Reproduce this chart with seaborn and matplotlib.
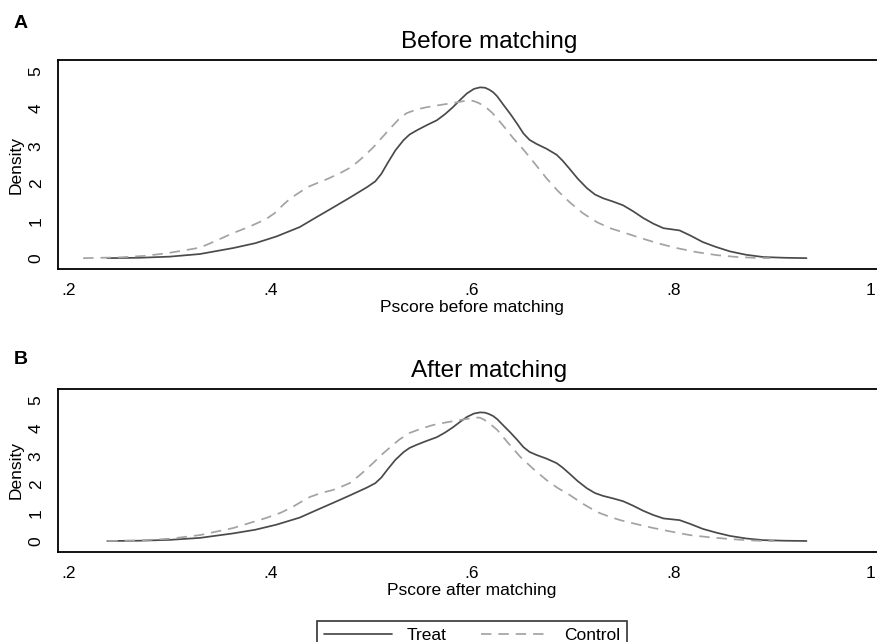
import pandas as pd
import matplotlib.pyplot as plt
import seaborn as sns
from matplotlib.lines import Line2D

sns.set_style("white")
plt.rcParams['font.family'] = ['Liberation Sans', 'DejaVu Sans']
plt.rcParams['text.color'] = 'black'
plt.rcParams['axes.labelcolor'] = 'black'

# ------------------------------------------------------------------
# Data
# ------------------------------------------------------------------
treat_x = [0.238, 0.27, 0.30, 0.33, 0.363, 0.385, 0.406, 0.429, 0.446, 0.462,
           0.479, 0.496, 0.504, 0.51, 0.516, 0.524, 0.532, 0.538, 0.545, 0.555,
           0.565, 0.573, 0.581, 0.588, 0.595, 0.602, 0.608, 0.613, 0.617, 0.621,
           0.625, 0.631, 0.638, 0.645, 0.651, 0.657, 0.664, 0.674, 0.684, 0.69,
           0.697, 0.705, 0.714, 0.722, 0.73, 0.74, 0.75, 0.76, 0.77, 0.78,
           0.79, 0.798, 0.806, 0.817, 0.829, 0.842, 0.856, 0.872, 0.889, 0.91,
           0.932]
treat_y = [0.0, 0.01, 0.04, 0.11, 0.27, 0.4, 0.58, 0.83, 1.1, 1.35,
           1.62, 1.9, 2.05, 2.25, 2.53, 2.88, 3.15, 3.3, 3.41, 3.55,
           3.68, 3.84, 4.03, 4.22, 4.4, 4.52, 4.56, 4.55, 4.5, 4.43,
           4.32, 4.1, 3.85, 3.58, 3.33, 3.16, 3.05, 2.92, 2.76, 2.6,
           2.38, 2.12, 1.87, 1.7, 1.6, 1.51, 1.41, 1.25, 1.07, 0.92,
           0.8, 0.77, 0.74, 0.6, 0.43, 0.3, 0.18, 0.09, 0.03, 0.01,
           0.0]

control_before_x = [0.214, 0.25, 0.275, 0.297, 0.317, 0.33, 0.343, 0.363, 0.38, 0.396,
                    0.404, 0.412, 0.42, 0.429, 0.437, 0.446, 0.457, 0.469, 0.478, 0.486,
                    0.494, 0.502, 0.51, 0.519, 0.527, 0.535, 0.545, 0.555, 0.566, 0.578,
                    0.587, 0.595, 0.601, 0.606, 0.611, 0.615, 0.62, 0.625, 0.633, 0.641,
                    0.65, 0.658, 0.666, 0.674, 0.685, 0.697, 0.71, 0.724, 0.737, 0.75,
                    0.767, 0.784, 0.803, 0.823, 0.843, 0.863, 0.88, 0.896]
control_before_y = [0.0, 0.02, 0.06, 0.13, 0.22, 0.28, 0.43, 0.67, 0.85, 1.05,
                    1.2, 1.41, 1.6, 1.76, 1.9, 2.0, 2.12, 2.27, 2.4, 2.56,
                    2.75, 2.96, 3.2, 3.47, 3.7, 3.87, 3.97, 4.03, 4.08, 4.13,
                    4.17, 4.21, 4.2, 4.15, 4.08, 4.0, 3.88, 3.73, 3.47, 3.2,
                    2.93, 2.67, 2.4, 2.13, 1.8, 1.49, 1.2, 0.96, 0.8, 0.69,
                    0.54, 0.4, 0.27, 0.16, 0.08, 0.03, 0.01, 0.0]

control_after_x = [0.238, 0.27, 0.30, 0.33, 0.363, 0.396, 0.41, 0.422, 0.431, 0.439,
                   0.45, 0.462, 0.47, 0.479, 0.49, 0.502, 0.51, 0.519, 0.528, 0.538,
                   0.55, 0.561, 0.575, 0.588, 0.597, 0.603, 0.608, 0.612, 0.618, 0.625,
                   0.636, 0.648, 0.661, 0.674, 0.685, 0.697, 0.71, 0.724, 0.735, 0.747,
                   0.763, 0.78, 0.798, 0.816, 0.836, 0.856, 0.872, 0.889, 0.9]
control_after_y = [0.0, 0.02, 0.08, 0.21, 0.46, 0.82, 1.0, 1.21, 1.4, 1.56,
                   1.7, 1.81, 1.92, 2.06, 2.38, 2.77, 3.05, 3.33, 3.6, 3.83,
                   3.99, 4.11, 4.21, 4.29, 4.34, 4.38, 4.37, 4.3, 4.15, 3.94,
                   3.47, 2.98, 2.55, 2.16, 1.88, 1.63, 1.32, 1.03, 0.88, 0.74,
                   0.6, 0.46, 0.33, 0.21, 0.13, 0.07, 0.03, 0.0, 0.0]

x_ticks = [0.2, 0.4, 0.6, 0.8, 1.0]
x_tick_labels = ['.2', '.4', '.6', '.8', '1']
y_ticks = [0, 1, 2, 3, 4, 5]

groups = ['Treat', 'Control']
palette = {'Treat': '#4a4a4a', 'Control': '#a3a3a3'}
dashes = {'Treat': '', 'Control': (6, 4)}


def make_frame(cx, cy):
    d1 = pd.DataFrame({'pscore': treat_x, 'density': treat_y, 'group': 'Treat'})
    d2 = pd.DataFrame({'pscore': cx, 'density': cy, 'group': 'Control'})
    return pd.concat([d1, d2], ignore_index=True)


def style_axis(ax, title, xlabel, ylim):
    ax.set_xlim(0.1891, 1.0447)
    ax.set_ylim(*ylim)
    ax.set_xticks(x_ticks)
    ax.set_xticklabels(x_tick_labels)
    ax.set_yticks(y_ticks)
    ax.tick_params(axis='both', which='major', direction='out', length=5.8, width=1,
                   color='black', labelsize=12.5, labelcolor='black')
    ax.tick_params(axis='x', pad=4)
    ax.tick_params(axis='y', pad=4.5)
    # the "1" sits right at the cropped edge, keep it inside the picture
    ax.get_xticklabels()[-1].set_ha('right')
    for lab in ax.get_yticklabels():
        lab.set_rotation(90)
        lab.set_va('center')
    ax.set_title(title, fontsize=17.5, pad=8.5, color='black')
    ax.set_xlabel(xlabel, fontsize=12.5, labelpad=2)
    ax.xaxis.label.set_x(0.48)
    ax.set_ylabel('Density', fontsize=12.5, labelpad=4)
    for side in ['left', 'bottom', 'top']:
        ax.spines[side].set_visible(True)
        ax.spines[side].set_color('black')
        ax.spines[side].set_linewidth(1.3)
    ax.spines['right'].set_visible(False)


fig = plt.figure(figsize=(8.78, 6.42), dpi=100)
ax1 = fig.add_axes([0.0661, 0.581, 0.9818, 0.3255])
ax2 = fig.add_axes([0.0661, 0.1402, 0.9818, 0.2539])

before = make_frame(control_before_x, control_before_y)
after = make_frame(control_after_x, control_after_y)

for ax, df in [(ax1, before), (ax2, after)]:
    sns.lineplot(data=df, x='pscore', y='density', hue='group', style='group',
                 palette=palette, dashes=dashes, hue_order=groups, style_order=groups,
                 sort=False, estimator=None, linewidth=1.25, legend=False, ax=ax)

style_axis(ax1, 'Before matching', 'Pscore before matching', (-0.29, 5.29))
style_axis(ax2, 'After matching', 'Pscore after matching', (-0.39, 5.39))

fig.text(21 / 878, 1 - 23.5 / 642, 'A', fontsize=14, fontweight='bold', ha='center', va='center')
fig.text(21 / 878, 1 - 360 / 642, 'B', fontsize=14, fontweight='bold', ha='center', va='center')

handles = [Line2D([], [], color=palette['Treat'], lw=1.25),
           Line2D([], [], color=palette['Control'], lw=1.25, dashes=(6, 4))]
leg = fig.legend(handles, groups, loc='upper center', bbox_to_anchor=(472 / 878, 1 - 612 / 642),
                 ncol=2, frameon=True, fancybox=False, fontsize=12.5, handlelength=3.9,
                 handletextpad=0.85, columnspacing=2.0, borderpad=0.4, labelcolor='black')
leg.get_frame().set_edgecolor('black')
leg.get_frame().set_linewidth(1.2)

fig.savefig('out.png', dpi=100)
